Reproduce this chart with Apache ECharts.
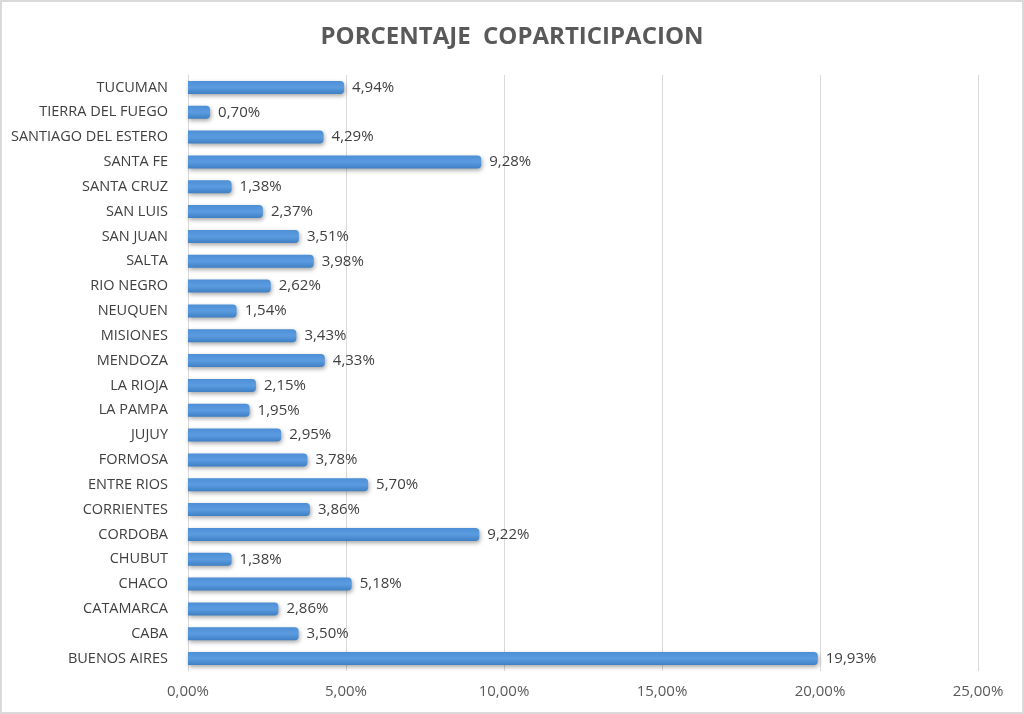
<!DOCTYPE html>
<html><head><meta charset="utf-8">
<script src="https://cdn.jsdelivr.net/npm/echarts@6/dist/echarts.min.js"></script>
<style>html,body{margin:0;padding:0;background:#fff}#c{width:1024px;height:714px;box-sizing:border-box;border:2px solid #d9d9d9}</style>
</head><body><div id="c"></div>
<script>
const categories = ["BUENOS AIRES","CABA","CATAMARCA","CHACO","CHUBUT","CORDOBA","CORRIENTES","ENTRE RIOS","FORMOSA","JUJUY","LA PAMPA","LA RIOJA","MENDOZA","MISIONES","NEUQUEN","RIO NEGRO","SALTA","SAN JUAN","SAN LUIS","SANTA CRUZ","SANTA FE","SANTIAGO DEL ESTERO","TIERRA DEL FUEGO","TUCUMAN"];
const values = [19.93,3.50,2.86,5.18,1.38,9.22,3.86,5.70,3.78,2.95,1.95,2.15,4.33,3.43,1.54,2.62,3.98,3.51,2.37,1.38,9.28,4.29,0.70,4.94];
const xTicks = [0,5,10,15,20,25];
const title = "PORCENTAJE  COPARTICIPACION";
const fmt = v => v.toFixed(2).replace('.', ',') + '%';
const chart = echarts.init(document.getElementById('c'));
chart.setOption({
  animation:false,
  title:{text:title,left:'center',top:18,textStyle:{fontFamily:'Open Sans, Liberation Sans, sans-serif',fontSize:24,fontWeight:'bold',color:'#595959'}},
  grid:{left:186,right:44,top:73,bottom:41,containLabel:false},
  xAxis:{type:'value',min:xTicks[0],max:xTicks[xTicks.length-1],interval:5,
    axisLabel:{formatter:fmt,color:'#595959',fontSize:15,fontFamily:'Open Sans, Liberation Sans, sans-serif',margin:13},
    splitLine:{show:true,lineStyle:{color:'#d9d9d9',width:1}},axisLine:{show:false},axisTick:{show:false}},
  yAxis:{type:'category',data:categories,
    axisLabel:{color:'#404040',fontSize:14.5,fontFamily:'Open Sans, Liberation Sans, sans-serif',margin:20},
    axisLine:{show:true,lineStyle:{color:'#d9d9d9'}},axisTick:{show:false}},
  series:[{type:'bar',data:values,barWidth:13,
    itemStyle:{color:new echarts.graphic.LinearGradient(0,0,0,1,[{offset:0,color:'#4d8fd6'},{offset:0.5,color:'#5b9be0'},{offset:1,color:'#3f7fc4'}]),
      borderRadius:[0,4,4,0],shadowColor:'rgba(0,0,0,0.35)',shadowBlur:4,shadowOffsetX:1,shadowOffsetY:2},
    label:{show:true,position:'right',distance:8,formatter:p=>fmt(p.value),color:'#404040',fontSize:15,fontFamily:'Open Sans, Liberation Sans, sans-serif'}}]
});
</script></body></html>
